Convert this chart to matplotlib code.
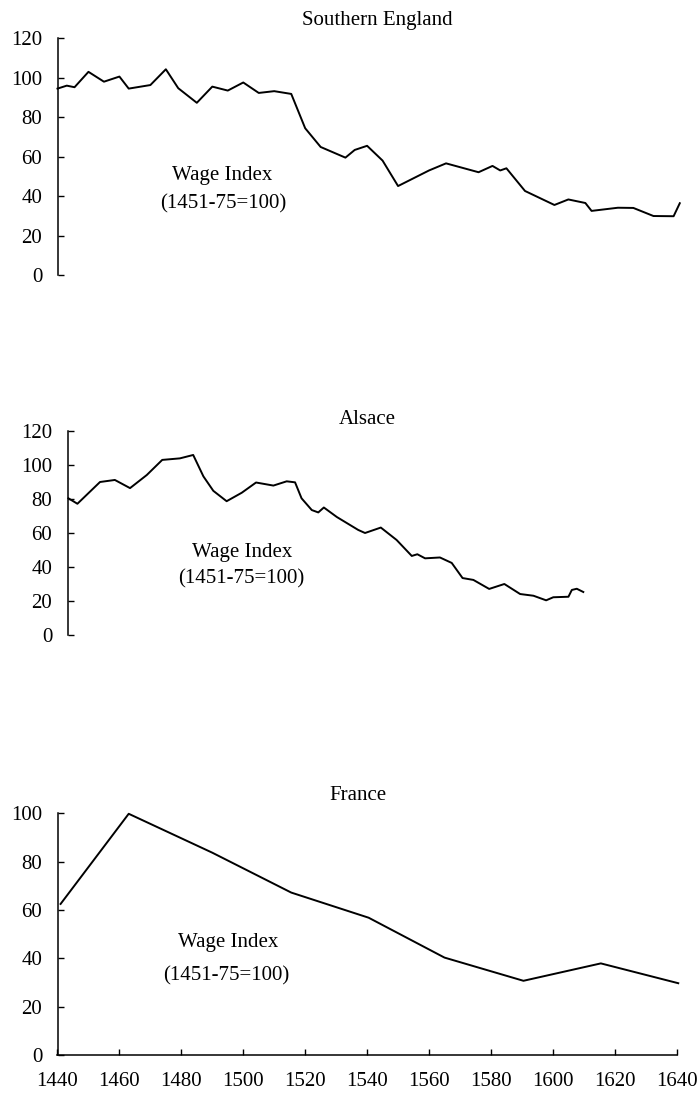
import matplotlib
matplotlib.use('Agg')
import matplotlib.pyplot as plt

# --- DATA ---
eng_years = [1440, 1443, 1445.5, 1450, 1455, 1460, 1463, 1470, 1475, 1479, 1485, 1490,
             1495, 1500, 1505, 1510, 1515.5, 1520, 1525, 1533, 1536, 1540, 1545, 1550,
             1560, 1565.5, 1576, 1580.5, 1583, 1585, 1591, 1600.5, 1605, 1610.5, 1612.5,
             1621, 1626, 1632.5, 1639, 1641]
eng_wage = [94.5, 96, 95.2, 103, 98, 100.6, 94.5, 96.3, 104.3, 94.7, 87.3, 95.5,
            93.5, 97.6, 92.3, 93.2, 91.8, 74.4, 64.9, 59.5, 63.4, 65.5, 58, 45.1,
            53, 56.6, 52.1, 55.3, 53, 54.1, 42.6, 35.5, 38.3, 36.5, 32.5,
            34.1, 34, 29.9, 29.8, 36.4]

als_years = [1440.3, 1443.2, 1450.5, 1455.3, 1460.2, 1465.6, 1470.6, 1476.3, 1480.6,
             1483.9, 1487.1, 1491.4, 1496.3, 1500.9, 1506.5, 1510.8, 1513.5, 1515.6,
             1518.9, 1521, 1522.8, 1527, 1533.9, 1536.1, 1541.2, 1546.3, 1551.2, 1553,
             1555.5, 1560.3, 1564.1, 1567.6, 1571.1, 1576.2, 1581.1, 1586.2, 1590.5,
             1594.6, 1596.9, 1601.8, 1602.9, 1604.5, 1606.6]
als_wage = [80.4, 77.2, 90, 91.2, 86.4, 94.1, 103, 103.9, 105.9,
            93.3, 84.8, 78.7, 83.7, 89.7, 87.9, 90.4, 89.8, 80.4,
            73.5, 72.1, 75, 69.4, 61.8, 60, 63.2, 55.9, 46.5, 47.5,
            45.1, 45.6, 42.4, 33.5, 32.4, 27.1, 30, 24.1, 23.1,
            20.4, 22.2, 22.5, 26.5, 27.2, 25.3]

fra_years = [1441, 1463, 1490, 1515.5, 1540.5, 1565, 1590.5, 1615.5, 1640.5]
fra_wage = [62.5, 99.8, 83.7, 67.2, 56.8, 40.3, 30.7, 37.9, 29.7]

year_ticks = list(range(1440, 1641, 20))
W, H = 700, 1110

plt.rcParams['font.family'] = 'Liberation Serif'
plt.rcParams['font.size'] = 15

fig = plt.figure(figsize=(7, 11.1), dpi=100, facecolor='white')


def px_axes(left, right, top, bottom):
    # pixel box -> figure fraction
    return fig.add_axes([left / W, 1 - bottom / H, (right - left) / W, (bottom - top) / H])


def style(ax, ymax, show_x):
    ax.set_xlim(1440, 1640)
    ax.set_ylim(0, ymax)
    ax.set_yticks(range(0, ymax + 1, 20))
    for s in ['top', 'right']:
        ax.spines[s].set_visible(False)
    ax.spines['left'].set_linewidth(1.1)
    ax.tick_params(axis='y', direction='in', length=4, width=1, pad=11, labelsize=15)
    if show_x:
        ax.spines['bottom'].set_linewidth(1.1)
        ax.set_xticks(year_ticks)
        ax.tick_params(axis='x', direction='in', length=4, width=1, pad=12, labelsize=15)
    else:
        ax.spines['bottom'].set_visible(False)
        ax.set_xticks([])
    ax.set_facecolor('none')


# Southern England
ax1 = px_axes(57.5, 676.7, 38.3, 275)
ax1.plot(eng_years, eng_wage, color='black', lw=1.4, clip_on=False)
style(ax1, 120, False)

# Alsace
ax2 = px_axes(67.5, 686.7, 431, 635)
ax2.plot(als_years, als_wage, color='black', lw=1.4, clip_on=False)
style(ax2, 120, False)

# France
ax3 = px_axes(57.5, 676.7, 813.3, 1055)
ax3.plot(fra_years, fra_wage, color='black', lw=1.4, clip_on=False)
style(ax3, 100, True)


def label(x, y, s):
    fig.text(x / W, 1 - y / H, s, ha='center', va='center', fontsize=15)


label(377.5, 20, 'Southern England')
label(222.5, 176, 'Wage Index')
label(223, 204, '(1451-75=100)')

label(367, 420, 'Alsace')
label(242, 552, 'Wage Index')
label(241, 579, '(1451-75=100)')

label(358, 795, 'France')
label(228, 943, 'Wage Index')
label(226, 976, '(1451-75=100)')

fig.savefig('out.png', dpi=100)
